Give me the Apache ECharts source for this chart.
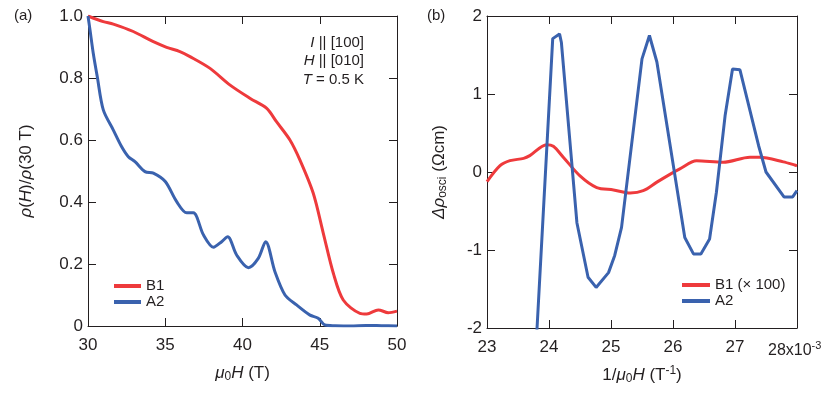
<!DOCTYPE html>
<html><head><meta charset="utf-8">
<script src="https://cdn.jsdelivr.net/npm/echarts@6/dist/echarts.min.js"></script>
<style>html,body{margin:0;padding:0;background:#fff}#c{width:830px;height:393px}</style>
</head><body><div id="c"></div>
<script>
// ---- Panel (a) data ----
const aB1X = [30, 30.99, 31.64, 32.93, 34.23, 35.09, 35.95, 36.6, 37.9, 39.2, 40.5, 41.57, 42.2, 43.07, 43.72, 44.58, 45.23, 45.88, 46.52, 47.6, 48.04, 48.79, 49.43, 50];
const aB1Y = [1.0, 0.982, 0.974, 0.95, 0.917, 0.899, 0.885, 0.869, 0.831, 0.777, 0.734, 0.702, 0.659, 0.60, 0.535, 0.428, 0.299, 0.17, 0.084, 0.041, 0.039, 0.052, 0.043, 0.048];
const aA2X = [30, 30.13, 30.34, 30.6, 30.99, 31.64, 32.18, 32.61, 33.04, 33.69, 34.23, 35.0, 35.74, 36.39, 36.82, 37.47, 38.12, 38.65, 39.04, 39.62, 40.38, 41.02, 41.5, 42.1, 42.75, 43.5, 44.37, 44.9, 45.34, 46.0, 47.0, 48.0, 49.0, 50];
const aA2Y = [1.0, 0.955, 0.88, 0.804, 0.697, 0.632, 0.578, 0.546, 0.53, 0.498, 0.493, 0.466, 0.401, 0.365, 0.365, 0.294, 0.254, 0.272, 0.288, 0.229, 0.188, 0.218, 0.272, 0.175, 0.1, 0.068, 0.035, 0.025, 0.003, 0.001, 0.0, 0.002, 0.001, 0.0];
// ---- Panel (b) data (x in 1e-3 T^-1) ----
const bB1X = [23.0, 23.21, 23.37, 23.59, 23.69, 23.96, 24.07, 24.23, 24.5, 24.77, 25.04, 25.31, 25.52, 25.74, 25.95, 26.11, 26.38, 26.81, 27.24, 27.4, 27.78, 28.0];
const bB1Y = [-0.124, 0.081, 0.145, 0.175, 0.21, 0.35, 0.33, 0.19, -0.05, -0.2, -0.23, -0.27, -0.24, -0.13, -0.03, 0.04, 0.145, 0.125, 0.19, 0.19, 0.13, 0.08];
const bA2X = [23.78, 24.06, 24.17, 24.2, 24.45, 24.63, 24.76, 24.96, 25.06, 25.17, 25.5, 25.62, 25.74, 26.19, 26.33, 26.45, 26.59, 26.7, 26.84, 26.96, 27.08, 27.38, 27.5, 27.79, 27.93, 28.0];
const bA2Y = [-2.4, 1.71, 1.77, 1.66, -0.65, -1.35, -1.48, -1.29, -1.07, -0.71, 1.45, 1.75, 1.41, -0.84, -1.05, -1.05, -0.86, -0.26, 0.72, 1.32, 1.31, 0.34, 0.0, -0.32, -0.32, -0.24];
// ---- Axis ticks ----
const aXTicks = [30, 35, 40, 45, 50];
const aYTicks = [0, 0.2, 0.4, 0.6, 0.8, 1.0];
const bXTicks = [23, 24, 25, 26, 27, 28];
const bYTicks = [-2, -1, 0, 1, 2];
const legendA = ['B1', 'A2'];
const legendB = ['B1 (× 100)', 'A2'];

const zip = (xs, ys) => xs.map((x, i) => [x, ys[i]]);
const FONT = '"Liberation Sans", Arial, sans-serif';
const TXT = '#231f20';
const RED = '#EE3A3C';
const BLUE = '#3A62AE';
const FS = 17;

const rich = {
  n: {fontSize: FS, fontFamily: FONT, color: TXT},
  i: {fontSize: FS, fontFamily: FONT, color: TXT, fontStyle: 'italic'},
  sub: {fontSize: 12, fontFamily: FONT, color: TXT, padding: [8, 0, 0, 0]},
  sup: {fontSize: 12, fontFamily: FONT, color: TXT, padding: [0, 0, 8, 0]}
};

function axisBase(ticks, extra) {
  return Object.assign({
    min: ticks[0], max: ticks[ticks.length - 1], interval: ticks[1] - ticks[0],
    splitLine: {show: false},
    axisLine: {show: true, onZero: false, lineStyle: {color: TXT, width: 1}},
    axisTick: {show: true, inside: true, length: 8, lineStyle: {color: TXT, width: 1}},
    axisLabel: {show: true, color: TXT, fontSize: FS, fontFamily: FONT}
  }, extra);
}
function mirror(ticks, pos, grid) {
  return axisBase(ticks, {gridIndex: grid, position: pos, axisLabel: {show: false}});
}

const option = {
  animation: false,
  backgroundColor: '#fff',
  grid: [
    {left: 88, right: 433, top: 16, bottom: 67},
    {left: 487, right: 33, top: 16, bottom: 65}
  ],
  xAxis: [
    axisBase(aXTicks, {gridIndex: 0, type: 'value', position: 'bottom',
      axisLabel: {show: true, color: TXT, fontSize: FS, fontFamily: FONT, margin: 11},
      name: '{i|μ}{sub|0}{i|H}{n| (T)}', nameLocation: 'middle', nameGap: 37,
      nameTextStyle: {rich: rich}}),
    mirror(aXTicks, 'top', 0),
    axisBase(bXTicks, {gridIndex: 1, type: 'value', position: 'bottom',
      axisLabel: {show: true, color: TXT, fontSize: FS, fontFamily: FONT, margin: 11,
        formatter: v => (v === 28 ? '' : String(v))},
      name: '{n|1/}{i|μ}{sub|0}{i|H}{n| (T}{sup|-1}{n|)}', nameLocation: 'middle', nameGap: 37,
      nameTextStyle: {rich: rich}}),
    mirror(bXTicks, 'top', 1)
  ],
  yAxis: [
    axisBase(aYTicks, {gridIndex: 0, type: 'value', position: 'left',
      axisLabel: {show: true, color: TXT, fontSize: FS, fontFamily: FONT, margin: 5,
        formatter: v => (v === 0 ? '0' : v.toFixed(1))},
      name: '{i|ρ}{n|(}{i|H}{n|)/}{i|ρ}{n|(30 T)}', nameLocation: 'middle', nameGap: 53,
      nameTextStyle: {rich: rich}}),
    mirror(aYTicks, 'right', 0),
    axisBase(bYTicks, {gridIndex: 1, type: 'value', position: 'left',
      axisLabel: {show: true, color: TXT, fontSize: FS, fontFamily: FONT, margin: 5},
      name: '{i|Δρ}{sub|osci}{n| (Ωcm)}', nameLocation: 'middle', nameGap: 38,
      nameTextStyle: {rich: rich}}),
    mirror(bYTicks, 'right', 1)
  ],
  legend: [
    {data: legendA, orient: 'vertical', left: 109, top: 273, icon: 'rect', itemWidth: 27, itemHeight: 4,
     itemGap: 0, itemTextGap: 9, selectedMode: false,
     textStyle: {fontSize: 15, fontFamily: FONT, color: TXT, lineHeight: 16}},
    {data: legendB, orient: 'vertical', left: 677, top: 272, icon: 'rect', itemWidth: 28, itemHeight: 4,
     itemGap: 0, itemTextGap: 8, selectedMode: false,
     textStyle: {fontSize: 15, fontFamily: FONT, color: TXT, lineHeight: 16}}
  ],
  graphic: [
    {type: 'text', left: 14, top: 8, style: {text: '(a)', fontSize: 15, fontFamily: FONT, fill: TXT}},
    {type: 'text', left: 427, top: 8, style: {text: '(b)', fontSize: 15, fontFamily: FONT, fill: TXT}},
    {type: 'text', right: 466, top: 35, style: {text: '{i|I}{n| || [100]}', align: 'right',
      rich: {i: {fontSize: 15, fontFamily: FONT, fill: TXT, fontStyle: 'italic'}, n: {fontSize: 15, fontFamily: FONT, fill: TXT}}}},
    {type: 'text', right: 466, top: 53, style: {text: '{i|H}{n| || [010]}', align: 'right',
      rich: {i: {fontSize: 15, fontFamily: FONT, fill: TXT, fontStyle: 'italic'}, n: {fontSize: 15, fontFamily: FONT, fill: TXT}}}},
    {type: 'text', right: 466, top: 72, style: {text: '{i|T}{n| = 0.5 K}', align: 'right',
      rich: {i: {fontSize: 15, fontFamily: FONT, fill: TXT, fontStyle: 'italic'}, n: {fontSize: 15, fontFamily: FONT, fill: TXT}}}},
    {type: 'text', left: 768, top: 340, style: {text: '{n|28x10}{s|-3}',
      rich: {n: {fontSize: 16, fontFamily: FONT, fill: TXT}, s: {fontSize: 11, fontFamily: FONT, fill: TXT, padding: [0, 0, 10, 0]}}}}
  ],
  series: [
    {name: 'B1', type: 'line', xAxisIndex: 0, yAxisIndex: 0, data: zip(aB1X, aB1Y), smooth: 0.3,
     showSymbol: false, lineStyle: {color: RED, width: 3}, itemStyle: {color: RED}},
    {name: 'A2', type: 'line', xAxisIndex: 0, yAxisIndex: 0, data: zip(aA2X, aA2Y), smooth: 0.3,
     showSymbol: false, lineStyle: {color: BLUE, width: 3}, itemStyle: {color: BLUE}},
    {name: 'B1 (× 100)', type: 'line', xAxisIndex: 2, yAxisIndex: 2, data: zip(bB1X, bB1Y), smooth: 0.3,
     showSymbol: false, lineStyle: {color: RED, width: 3}, itemStyle: {color: RED}},
    {name: 'A2', type: 'line', xAxisIndex: 2, yAxisIndex: 2, data: zip(bA2X, bA2Y), smooth: false,
     showSymbol: false, lineStyle: {color: BLUE, width: 3}, itemStyle: {color: BLUE}}
  ]
};
const chart = echarts.init(document.getElementById('c'), null, {renderer: 'canvas'});
chart.setOption(option);
</script>
</body></html>
